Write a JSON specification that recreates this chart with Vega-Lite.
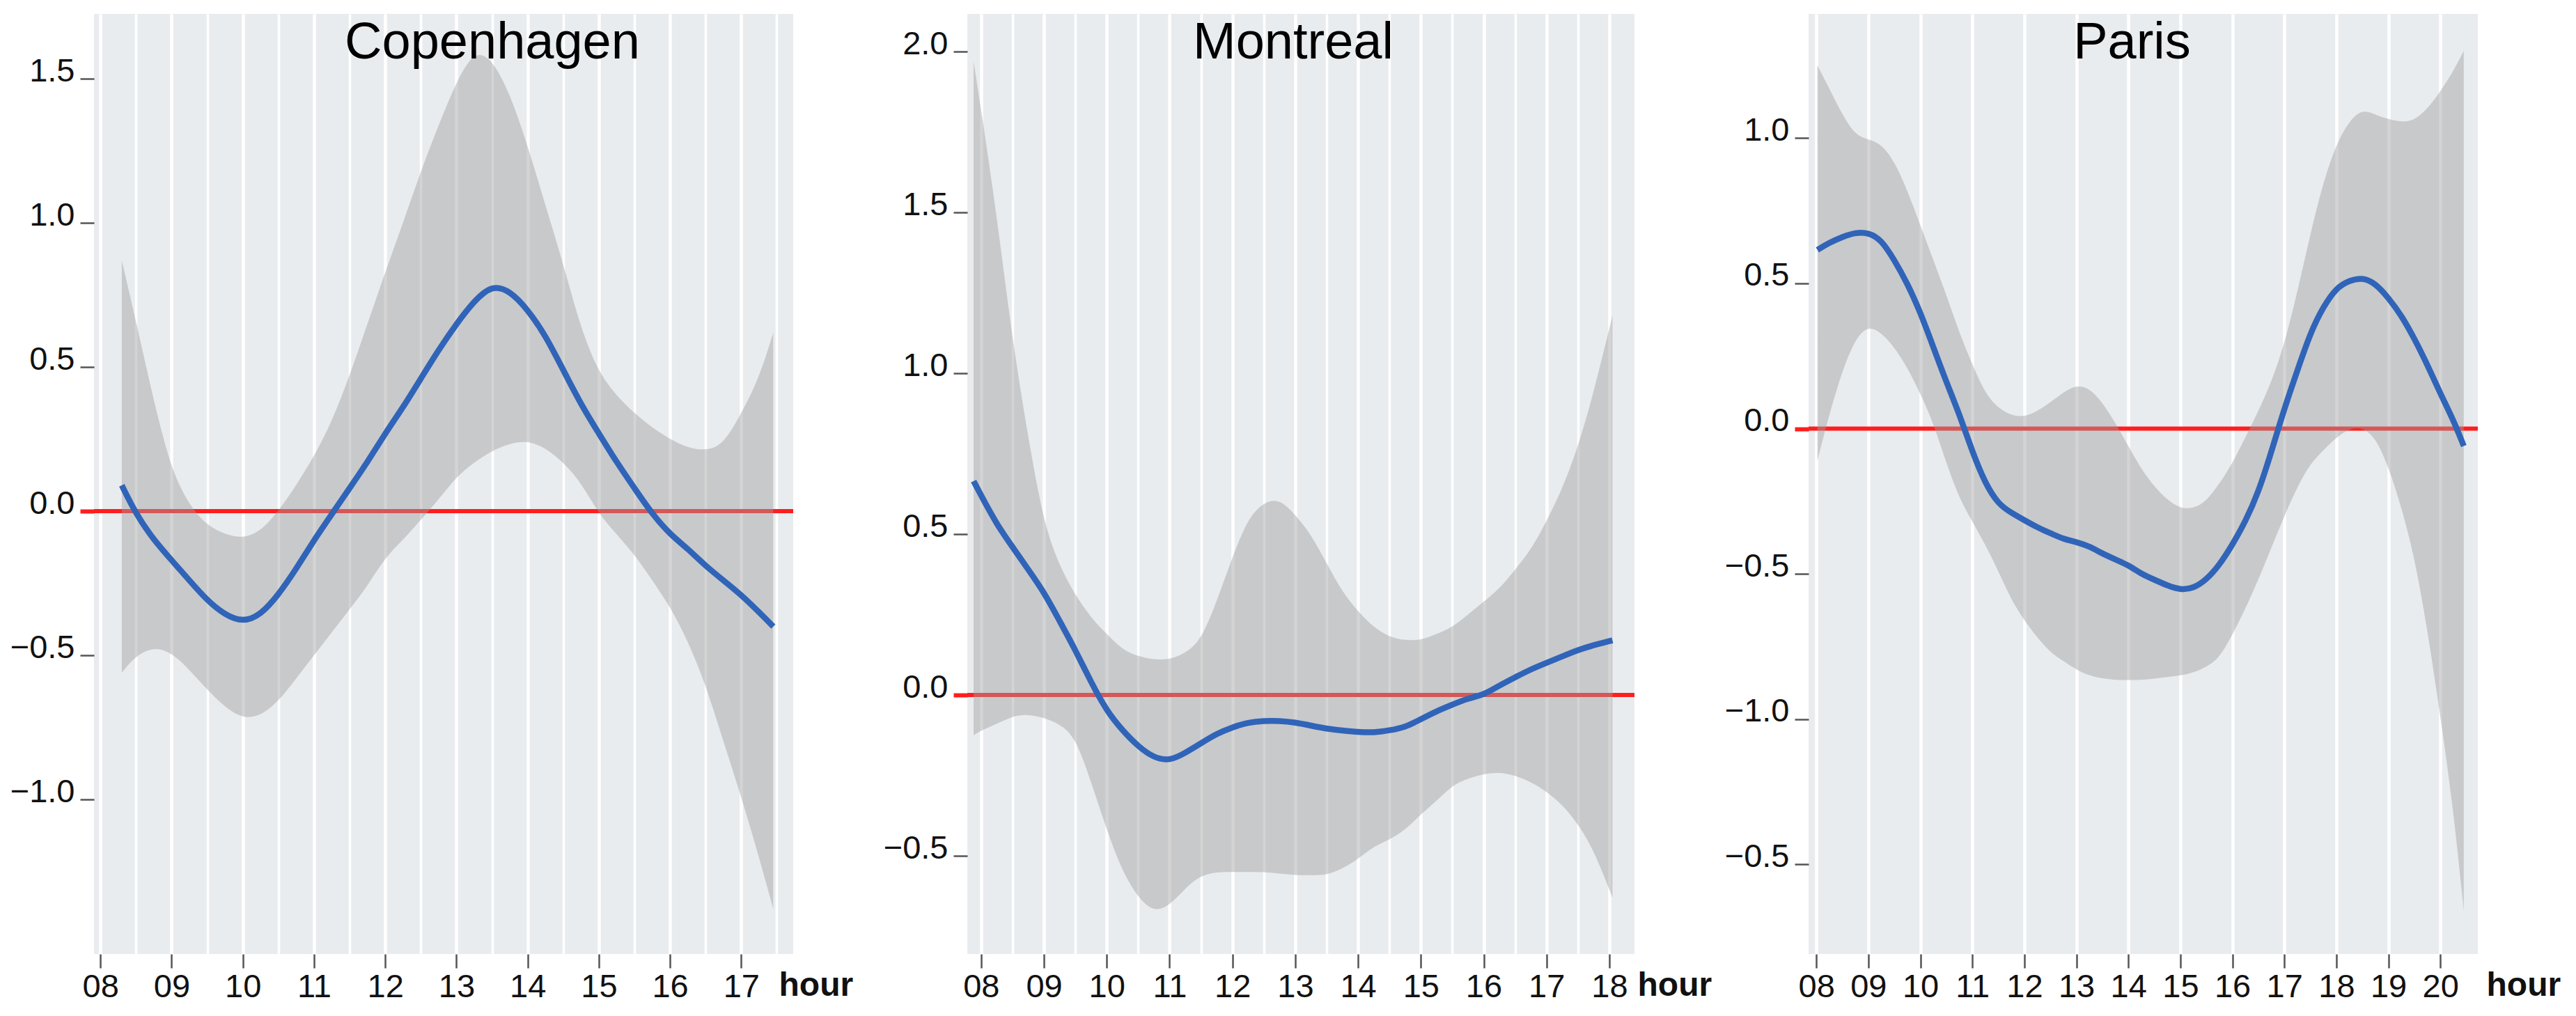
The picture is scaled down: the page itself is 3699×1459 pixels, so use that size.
{
  "$schema": "https://vega.github.io/schema/vega-lite/v6.json",
  "background": "white",
  "padding": {"left": 14, "top": 20, "right": 0, "bottom": 0},
  "bounds": "flush",
  "spacing": 250,
  "config": {
    "view": {"fill": "#E9ECEF", "stroke": null},
    "font": "Liberation Sans",
    "title": {"font": "Liberation Sans", "fontSize": 74, "fontWeight": "normal", "color": "#000000", "anchor": "middle", "baseline": "alphabetic"},
    "axis": {
      "domain": false,
      "labelFont": "Liberation Sans",
      "labelFontSize": 47,
      "labelColor": "#111111",
      "labelOverlap": false,
      "labelFlush": false,
      "tickSize": 20,
      "gridColor": "#FFFFFF",
      "titleFont": "Liberation Sans"
    },
    "axisX": {"labelPadding": 4, "tickColor": "#555555", "tickWidth": 2.5},
    "axisY": {"labelPadding": 8, "labelOffset": -11, "gridWidth": 3, "gridOpacity": 0.75,
      "tickColor": {"condition": {"test": "datum.value === 0", "value": "#FF1E1E"}, "value": "#555555"},
      "tickWidth": {"condition": {"test": "datum.value === 0", "value": 6}, "value": 2.5}}
  },
  "data": {"values": [
    {"city":"Copenhagen","hour":8.3,"fit":0.09,"lo":-0.56,"hi":0.87},
    {"city":"Copenhagen","hour":8.5,"fit":-0.01,"lo":-0.5,"hi":0.66},
    {"city":"Copenhagen","hour":8.75,"fit":-0.1,"lo":-0.47,"hi":0.38},
    {"city":"Copenhagen","hour":9.0,"fit":-0.17,"lo":-0.49,"hi":0.14},
    {"city":"Copenhagen","hour":9.25,"fit":-0.24,"lo":-0.55,"hi":0.02},
    {"city":"Copenhagen","hour":9.5,"fit":-0.31,"lo":-0.62,"hi":-0.05},
    {"city":"Copenhagen","hour":9.75,"fit":-0.36,"lo":-0.68,"hi":-0.08},
    {"city":"Copenhagen","hour":10.0,"fit":-0.385,"lo":-0.72,"hi":-0.095},
    {"city":"Copenhagen","hour":10.25,"fit":-0.36,"lo":-0.71,"hi":-0.07},
    {"city":"Copenhagen","hour":10.5,"fit":-0.29,"lo":-0.66,"hi":0.0},
    {"city":"Copenhagen","hour":10.75,"fit":-0.2,"lo":-0.58,"hi":0.09},
    {"city":"Copenhagen","hour":11.0,"fit":-0.1,"lo":-0.5,"hi":0.19},
    {"city":"Copenhagen","hour":11.25,"fit":-0.01,"lo":-0.42,"hi":0.31},
    {"city":"Copenhagen","hour":11.5,"fit":0.08,"lo":-0.34,"hi":0.47},
    {"city":"Copenhagen","hour":11.75,"fit":0.17,"lo":-0.26,"hi":0.65},
    {"city":"Copenhagen","hour":12.0,"fit":0.27,"lo":-0.16,"hi":0.83},
    {"city":"Copenhagen","hour":12.25,"fit":0.36,"lo":-0.1,"hi":1.0},
    {"city":"Copenhagen","hour":12.5,"fit":0.46,"lo":-0.03,"hi":1.18},
    {"city":"Copenhagen","hour":12.75,"fit":0.56,"lo":0.04,"hi":1.34},
    {"city":"Copenhagen","hour":13.0,"fit":0.65,"lo":0.12,"hi":1.49},
    {"city":"Copenhagen","hour":13.25,"fit":0.73,"lo":0.17,"hi":1.6},
    {"city":"Copenhagen","hour":13.5,"fit":0.785,"lo":0.21,"hi":1.57},
    {"city":"Copenhagen","hour":13.75,"fit":0.765,"lo":0.235,"hi":1.45},
    {"city":"Copenhagen","hour":14.0,"fit":0.7,"lo":0.245,"hi":1.27},
    {"city":"Copenhagen","hour":14.25,"fit":0.61,"lo":0.22,"hi":1.06},
    {"city":"Copenhagen","hour":14.5,"fit":0.49,"lo":0.17,"hi":0.86},
    {"city":"Copenhagen","hour":14.75,"fit":0.37,"lo":0.1,"hi":0.63},
    {"city":"Copenhagen","hour":15.0,"fit":0.27,"lo":-0.01,"hi":0.48},
    {"city":"Copenhagen","hour":15.25,"fit":0.17,"lo":-0.08,"hi":0.4},
    {"city":"Copenhagen","hour":15.5,"fit":0.08,"lo":-0.15,"hi":0.34},
    {"city":"Copenhagen","hour":15.75,"fit":-0.01,"lo":-0.24,"hi":0.29},
    {"city":"Copenhagen","hour":16.0,"fit":-0.08,"lo":-0.33,"hi":0.25},
    {"city":"Copenhagen","hour":16.25,"fit":-0.13,"lo":-0.45,"hi":0.22},
    {"city":"Copenhagen","hour":16.5,"fit":-0.19,"lo":-0.6,"hi":0.21},
    {"city":"Copenhagen","hour":16.75,"fit":-0.24,"lo":-0.8,"hi":0.23},
    {"city":"Copenhagen","hour":17.0,"fit":-0.29,"lo":-0.99,"hi":0.34},
    {"city":"Copenhagen","hour":17.25,"fit":-0.35,"lo":-1.2,"hi":0.46},
    {"city":"Copenhagen","hour":17.45,"fit":-0.4,"lo":-1.38,"hi":0.62},
    {"city":"Montreal","hour":7.88,"fit":0.665,"lo":-0.125,"hi":1.97},
    {"city":"Montreal","hour":8.0,"fit":0.62,"lo":-0.11,"hi":1.82},
    {"city":"Montreal","hour":8.25,"fit":0.53,"lo":-0.09,"hi":1.49},
    {"city":"Montreal","hour":8.5,"fit":0.46,"lo":-0.065,"hi":1.1},
    {"city":"Montreal","hour":8.75,"fit":0.39,"lo":-0.06,"hi":0.8},
    {"city":"Montreal","hour":9.0,"fit":0.32,"lo":-0.07,"hi":0.53},
    {"city":"Montreal","hour":9.25,"fit":0.23,"lo":-0.09,"hi":0.4},
    {"city":"Montreal","hour":9.5,"fit":0.14,"lo":-0.13,"hi":0.31},
    {"city":"Montreal","hour":9.75,"fit":0.04,"lo":-0.27,"hi":0.24},
    {"city":"Montreal","hour":10.0,"fit":-0.05,"lo":-0.42,"hi":0.19},
    {"city":"Montreal","hour":10.25,"fit":-0.11,"lo":-0.55,"hi":0.14},
    {"city":"Montreal","hour":10.5,"fit":-0.16,"lo":-0.63,"hi":0.12},
    {"city":"Montreal","hour":10.75,"fit":-0.195,"lo":-0.675,"hi":0.11},
    {"city":"Montreal","hour":11.0,"fit":-0.205,"lo":-0.655,"hi":0.11},
    {"city":"Montreal","hour":11.25,"fit":-0.18,"lo":-0.6,"hi":0.13},
    {"city":"Montreal","hour":11.5,"fit":-0.15,"lo":-0.56,"hi":0.17},
    {"city":"Montreal","hour":11.75,"fit":-0.12,"lo":-0.55,"hi":0.29},
    {"city":"Montreal","hour":12.0,"fit":-0.1,"lo":-0.55,"hi":0.43},
    {"city":"Montreal","hour":12.25,"fit":-0.085,"lo":-0.55,"hi":0.55},
    {"city":"Montreal","hour":12.5,"fit":-0.08,"lo":-0.55,"hi":0.6},
    {"city":"Montreal","hour":12.75,"fit":-0.08,"lo":-0.555,"hi":0.61},
    {"city":"Montreal","hour":13.0,"fit":-0.085,"lo":-0.56,"hi":0.56},
    {"city":"Montreal","hour":13.25,"fit":-0.095,"lo":-0.56,"hi":0.5},
    {"city":"Montreal","hour":13.5,"fit":-0.105,"lo":-0.56,"hi":0.41},
    {"city":"Montreal","hour":13.75,"fit":-0.11,"lo":-0.54,"hi":0.32},
    {"city":"Montreal","hour":14.0,"fit":-0.115,"lo":-0.51,"hi":0.26},
    {"city":"Montreal","hour":14.25,"fit":-0.117,"lo":-0.47,"hi":0.21},
    {"city":"Montreal","hour":14.5,"fit":-0.11,"lo":-0.45,"hi":0.18},
    {"city":"Montreal","hour":14.75,"fit":-0.1,"lo":-0.42,"hi":0.17},
    {"city":"Montreal","hour":15.0,"fit":-0.075,"lo":-0.37,"hi":0.17},
    {"city":"Montreal","hour":15.25,"fit":-0.05,"lo":-0.33,"hi":0.19},
    {"city":"Montreal","hour":15.5,"fit":-0.03,"lo":-0.28,"hi":0.21},
    {"city":"Montreal","hour":15.75,"fit":-0.01,"lo":-0.26,"hi":0.25},
    {"city":"Montreal","hour":16.0,"fit":0.0,"lo":-0.245,"hi":0.29},
    {"city":"Montreal","hour":16.25,"fit":0.03,"lo":-0.24,"hi":0.33},
    {"city":"Montreal","hour":16.5,"fit":0.055,"lo":-0.25,"hi":0.39},
    {"city":"Montreal","hour":16.75,"fit":0.08,"lo":-0.27,"hi":0.45},
    {"city":"Montreal","hour":17.0,"fit":0.1,"lo":-0.3,"hi":0.54},
    {"city":"Montreal","hour":17.25,"fit":0.12,"lo":-0.34,"hi":0.64},
    {"city":"Montreal","hour":17.5,"fit":0.14,"lo":-0.4,"hi":0.77},
    {"city":"Montreal","hour":17.75,"fit":0.155,"lo":-0.48,"hi":0.94},
    {"city":"Montreal","hour":18.05,"fit":0.17,"lo":-0.63,"hi":1.18},
    {"city":"Paris","hour":8.02,"fit":0.615,"lo":-0.11,"hi":1.25},
    {"city":"Paris","hour":8.25,"fit":0.64,"lo":0.05,"hi":1.17},
    {"city":"Paris","hour":8.5,"fit":0.66,"lo":0.2,"hi":1.08},
    {"city":"Paris","hour":8.75,"fit":0.675,"lo":0.31,"hi":1.01},
    {"city":"Paris","hour":9.0,"fit":0.675,"lo":0.355,"hi":0.995},
    {"city":"Paris","hour":9.25,"fit":0.65,"lo":0.33,"hi":0.98},
    {"city":"Paris","hour":9.5,"fit":0.58,"lo":0.28,"hi":0.92},
    {"city":"Paris","hour":9.75,"fit":0.5,"lo":0.21,"hi":0.82},
    {"city":"Paris","hour":10.0,"fit":0.4,"lo":0.12,"hi":0.7},
    {"city":"Paris","hour":10.25,"fit":0.28,"lo":0.02,"hi":0.58},
    {"city":"Paris","hour":10.5,"fit":0.16,"lo":-0.12,"hi":0.46},
    {"city":"Paris","hour":10.75,"fit":0.05,"lo":-0.24,"hi":0.33},
    {"city":"Paris","hour":11.0,"fit":-0.08,"lo":-0.32,"hi":0.22},
    {"city":"Paris","hour":11.25,"fit":-0.19,"lo":-0.4,"hi":0.12},
    {"city":"Paris","hour":11.5,"fit":-0.26,"lo":-0.49,"hi":0.07},
    {"city":"Paris","hour":11.75,"fit":-0.29,"lo":-0.59,"hi":0.045},
    {"city":"Paris","hour":12.0,"fit":-0.315,"lo":-0.66,"hi":0.04},
    {"city":"Paris","hour":12.25,"fit":-0.34,"lo":-0.72,"hi":0.06},
    {"city":"Paris","hour":12.5,"fit":-0.36,"lo":-0.77,"hi":0.09},
    {"city":"Paris","hour":12.75,"fit":-0.38,"lo":-0.8,"hi":0.125},
    {"city":"Paris","hour":13.0,"fit":-0.39,"lo":-0.83,"hi":0.15},
    {"city":"Paris","hour":13.25,"fit":-0.405,"lo":-0.85,"hi":0.14},
    {"city":"Paris","hour":13.5,"fit":-0.43,"lo":-0.86,"hi":0.09},
    {"city":"Paris","hour":13.75,"fit":-0.45,"lo":-0.865,"hi":0.02},
    {"city":"Paris","hour":14.0,"fit":-0.47,"lo":-0.865,"hi":-0.06},
    {"city":"Paris","hour":14.25,"fit":-0.5,"lo":-0.865,"hi":-0.14},
    {"city":"Paris","hour":14.5,"fit":-0.52,"lo":-0.86,"hi":-0.2},
    {"city":"Paris","hour":14.75,"fit":-0.54,"lo":-0.855,"hi":-0.245},
    {"city":"Paris","hour":15.0,"fit":-0.555,"lo":-0.85,"hi":-0.275},
    {"city":"Paris","hour":15.25,"fit":-0.55,"lo":-0.84,"hi":-0.275},
    {"city":"Paris","hour":15.5,"fit":-0.52,"lo":-0.82,"hi":-0.25},
    {"city":"Paris","hour":15.75,"fit":-0.47,"lo":-0.79,"hi":-0.19},
    {"city":"Paris","hour":16.0,"fit":-0.4,"lo":-0.71,"hi":-0.12},
    {"city":"Paris","hour":16.25,"fit":-0.32,"lo":-0.62,"hi":-0.03},
    {"city":"Paris","hour":16.5,"fit":-0.22,"lo":-0.52,"hi":0.06},
    {"city":"Paris","hour":16.75,"fit":-0.08,"lo":-0.41,"hi":0.16},
    {"city":"Paris","hour":17.0,"fit":0.07,"lo":-0.3,"hi":0.29},
    {"city":"Paris","hour":17.25,"fit":0.2,"lo":-0.2,"hi":0.47},
    {"city":"Paris","hour":17.5,"fit":0.33,"lo":-0.12,"hi":0.67},
    {"city":"Paris","hour":17.75,"fit":0.42,"lo":-0.075,"hi":0.85},
    {"city":"Paris","hour":18.0,"fit":0.485,"lo":-0.03,"hi":0.98},
    {"city":"Paris","hour":18.25,"fit":0.51,"lo":0.0,"hi":1.06},
    {"city":"Paris","hour":18.5,"fit":0.52,"lo":0.005,"hi":1.1},
    {"city":"Paris","hour":18.75,"fit":0.5,"lo":-0.03,"hi":1.08},
    {"city":"Paris","hour":19.0,"fit":0.45,"lo":-0.13,"hi":1.065},
    {"city":"Paris","hour":19.25,"fit":0.39,"lo":-0.27,"hi":1.055},
    {"city":"Paris","hour":19.5,"fit":0.31,"lo":-0.44,"hi":1.06},
    {"city":"Paris","hour":19.75,"fit":0.22,"lo":-0.69,"hi":1.1},
    {"city":"Paris","hour":20.0,"fit":0.12,"lo":-0.99,"hi":1.16},
    {"city":"Paris","hour":20.25,"fit":0.03,"lo":-1.31,"hi":1.23},
    {"city":"Paris","hour":20.45,"fit":-0.06,"lo":-1.66,"hi":1.3}
  ]},
  "hconcat": [
    {
      "width": 1004, "height": 1350,
      "title": {"text": "Copenhagen", "offset": -80, "dx": 70},
      "transform": [{"filter": "datum.city === 'Copenhagen'"}],
      "layer": [
        {"data": {"values": [{}]}, "mark": {"type": "rule", "color": "#FF1E1E", "strokeWidth": 6}, "encoding": {"y": {"datum": 0, "type": "quantitative"}}},
        {"mark": {"type": "area", "color": "#A0A0A0", "opacity": 0.45, "interpolate": "basis"},
         "encoding": {
           "x": {"field": "hour", "type": "quantitative", "scale": {"domain": [7.91, 17.73], "nice": false, "zero": false},
             "axis": {"values": [8,8.5,9,9.5,10,10.5,11,11.5,12,12.5,13,13.5,14,14.5,15,15.5,16,16.5,17,17.5],
               "labelExpr": "datum.value % 1 ? '' : (datum.value < 10 ? '0' : '') + datum.value",
               "tickOpacity": {"condition": {"test": "datum.value % 1 !== 0", "value": 0}, "value": 1},
               "gridWidth": {"condition": {"test": "datum.value % 1 !== 0", "value": 3.5}, "value": 4.5},
               "title": "hour", "titleX": 983, "titleY": 59, "titleAlign": "left", "titleBaseline": "alphabetic", "titleAngle": 0,
               "titleFontWeight": "bold", "titleFontSize": 48, "titleColor": "#111111"}},
           "y": {"field": "lo", "type": "quantitative", "scale": {"domain": [-1.536, 1.725], "nice": false, "zero": false},
             "axis": {"values": [-1, -0.5, 0, 0.5, 1, 1.5], "format": ".1f", "title": null}},
           "y2": {"field": "hi"}
         }},
        {"mark": {"type": "line", "color": "#3064B8", "strokeWidth": 8.5, "interpolate": "basis"},
         "encoding": {
           "x": {"field": "hour", "type": "quantitative"},
           "y": {"field": "fit", "type": "quantitative", "title": null}
         }}
      ]
    },
    {
      "width": 958, "height": 1350,
      "title": {"text": "Montreal", "offset": -80, "dx": -11},
      "transform": [{"filter": "datum.city === 'Montreal'"}],
      "layer": [
        {"data": {"values": [{}]}, "mark": {"type": "rule", "color": "#FF1E1E", "strokeWidth": 6}, "encoding": {"y": {"datum": 0, "type": "quantitative"}}},
        {"mark": {"type": "area", "color": "#A0A0A0", "opacity": 0.45, "interpolate": "basis"},
         "encoding": {
           "x": {"field": "hour", "type": "quantitative", "scale": {"domain": [7.78, 18.4], "nice": false, "zero": false},
             "axis": {"values": [8,8.5,9,9.5,10,10.5,11,11.5,12,12.5,13,13.5,14,14.5,15,15.5,16,16.5,17,17.5,18],
               "labelExpr": "datum.value % 1 ? '' : (datum.value < 10 ? '0' : '') + datum.value",
               "tickOpacity": {"condition": {"test": "datum.value % 1 !== 0", "value": 0}, "value": 1},
               "gridWidth": {"condition": {"test": "datum.value % 1 !== 0", "value": 3.5}, "value": 4.5},
               "title": "hour", "titleX": 962, "titleY": 59, "titleAlign": "left", "titleBaseline": "alphabetic", "titleAngle": 0,
               "titleFontWeight": "bold", "titleFontSize": 48, "titleColor": "#111111"}},
           "y": {"field": "lo", "type": "quantitative", "scale": {"domain": [-0.805, 2.117], "nice": false, "zero": false},
             "axis": {"values": [-0.5, 0, 0.5, 1, 1.5, 2], "format": ".1f", "title": null}},
           "y2": {"field": "hi"}
         }},
        {"mark": {"type": "line", "color": "#3064B8", "strokeWidth": 8.5, "interpolate": "basis"},
         "encoding": {
           "x": {"field": "hour", "type": "quantitative"},
           "y": {"field": "fit", "type": "quantitative", "title": null}
         }}
      ]
    },
    {
      "width": 961, "height": 1350,
      "title": {"text": "Paris", "offset": -80, "dx": -16},
      "transform": [{"filter": "datum.city === 'Paris'"}],
      "layer": [
        {"data": {"values": [{}]}, "mark": {"type": "rule", "color": "#FF1E1E", "strokeWidth": 6}, "encoding": {"y": {"datum": 0, "type": "quantitative"}}},
        {"mark": {"type": "area", "color": "#A0A0A0", "opacity": 0.45, "interpolate": "basis"},
         "encoding": {
           "x": {"field": "hour", "type": "quantitative", "scale": {"domain": [7.85, 20.72], "nice": false, "zero": false},
             "axis": {"values": [8,9,10,11,12,13,14,15,16,17,18,19,20],
               "labelExpr": "(datum.value < 10 ? '0' : '') + datum.value",
               "gridWidth": 4.5,
               "title": "hour", "titleX": 973, "titleY": 59, "titleAlign": "left", "titleBaseline": "alphabetic", "titleAngle": 0,
               "titleFontWeight": "bold", "titleFontSize": 48, "titleColor": "#111111"}},
           "y": {"field": "lo", "type": "quantitative", "scale": {"domain": [-1.808, 1.427], "nice": false, "zero": false},
             "axis": {"values": [-1.5, -1, -0.5, 0, 0.5, 1], "labelExpr": "datum.value === -1.5 ? '−0.5' : format(datum.value, '.1f')", "title": null}},
           "y2": {"field": "hi"}
         }},
        {"mark": {"type": "line", "color": "#3064B8", "strokeWidth": 8.5, "interpolate": "basis"},
         "encoding": {
           "x": {"field": "hour", "type": "quantitative"},
           "y": {"field": "fit", "type": "quantitative", "title": null}
         }}
      ]
    }
  ]
}
